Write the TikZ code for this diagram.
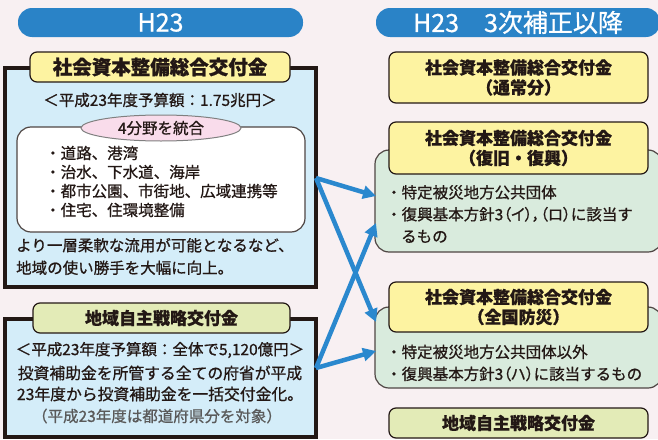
\documentclass[tikz,border=0pt]{standalone}
\usepackage{fontspec}
\setmainfont{Noto Sans CJK JP}[RawFeature={embolden=0.8}]
\newfontfamily\jppalt{Noto Sans CJK JP}[RawFeature={+palt;embolden=0.8}]
\usepackage{xcolor}
\usepackage{tikz}
\usetikzlibrary{shapes,arrows,positioning,fit,arrows.meta}

\definecolor{barblue}{HTML}{2A83C7}
\definecolor{panelblue}{HTML}{D4EDF9}
\definecolor{tagyellow}{HTML}{FDF3A1}
\definecolor{taggreen}{HTML}{E3EBB7}
\definecolor{boxgreen}{HTML}{D9EBDD}
\definecolor{ovalpink}{HTML}{F9DCEB}
\definecolor{inkdark}{HTML}{231815}
\definecolor{notegray}{HTML}{5A5A5A}
\definecolor{paper}{HTML}{F8F0F2}
\definecolor{arrowblue}{HTML}{2A88CE}

\begin{document}
\begin{tikzpicture}[x=1pt, y=-1pt,
            header/.style={rectangle, rounded corners=14pt, fill=barblue, text=white, inner sep=0pt, font=\fontsize{25}{27}\selectfont},
            panel/.style={rectangle, draw=inkdark, line width=4pt, fill=panelblue, inner sep=0pt},
            tag/.style={rectangle, rounded corners=7pt, draw=inkdark, line width=1.2pt, fill=tagyellow, inner sep=0pt, align=center, text=inkdark, font=\bfseries\fontsize{17}{20}\selectfont},
            greenbox/.style={rectangle, rounded corners=14pt, draw=inkdark!80, line width=1.2pt, fill=boxgreen, inner sep=0pt},
            body/.style={inner sep=0pt, align=left, text=inkdark, font=\fontsize{15.5}{19}\selectfont},
            flow/.style={-{Triangle[length=13pt,width=13pt]}, line width=4.5pt, draw=arrowblue}
        ]

        \clip (0,0) rectangle (658,439);
        \fill[paper] (0,0) rectangle (658,439);

        \node[header, minimum width=285pt, minimum height=29pt] (oldhead) at (160.5,22.5) {H23};
        \node[header, minimum width=284pt, minimum height=29pt] (newhead) at (518,22.5) {H23　3次補正以降};

        \node[panel, minimum width=311pt, minimum height=219pt] (shapanel) at (160.5,177) {};
        \node[tag, minimum width=260pt, minimum height=30pt, font=\bfseries\fontsize{19.5}{22}\selectfont] (shatag) at (160,67) {社会資本整備総合交付金};
        \node[body] (shabudget) at (160,100) {＜平成23年度予算額：1.75兆円＞};
        \node[rectangle, rounded corners=14pt, draw=inkdark!80, line width=1.2pt, fill=white, minimum width=288pt, minimum height=105pt] (fieldbox) at (161,179.5) {};
        \node[ellipse, draw=gray, line width=1pt, fill=ovalpink, minimum width=160pt, minimum height=26pt, inner sep=0pt, body] (merge) at (161,128) {4分野を統合};
        \node[body, anchor=west] (fieldlist) at (45,181.5) {・道路、港湾\\・治水、下水道、海岸\\・都市公園、市街地、広域連携等\\・住宅、住環境整備};
        \node[body, anchor=west, font=\fontsize{15.5}{22.5}\selectfont] (shanote) at (16,256.5) {より一層柔軟な流用が可能となるなど、\\地域の使い勝手を大幅に向上。};

        \node[panel, minimum width=311pt, minimum height=118pt] (chipanel) at (160.5,378) {};
        \node[tag, fill=taggreen, minimum width=257pt, minimum height=30pt] (chitag) at (161.5,318) {地域自主戦略交付金};
        \node[body] (chibudget) at (160,350) {＜平成23年度予算額：全体で5,120億円＞};
        \node[body, align=center, font=\fontsize{15.8}{21}\selectfont] (chinote) at (160,383.5) {投資補助金を所管する全ての府省が平成\\23年度から投資補助金を一括交付金化。};
        \node[body, text=notegray] (chiscope) at (157,416) {（平成23年度は都道府県分を対象）};

        \node[tag, minimum width=259pt, minimum height=51pt] (normaltag) at (518.5,77.5) {社会資本整備総合交付金\\（通常分）};

        \node[greenbox, minimum width=287pt, minimum height=102pt] (recovbox) at (518.5,201) {};
        \node[tag, minimum width=259pt, minimum height=52pt] (recovtag) at (518.5,148) {社会資本整備総合交付金\\（復旧・復興）};
        \node[body, anchor=west, font=\fontsize{15.5}{22}\selectfont] (recovlist) at (386,214) {・特定被災地方公共団体\\・復興基本方針3{\jppalt （イ），（ロ）}に該当す\\\hspace*{15pt}るもの};

        \node[greenbox, minimum width=287pt, minimum height=81pt] (disbox) at (518.5,347.5) {};
        \node[tag, minimum width=259pt, minimum height=50pt] (distag) at (518.5,307) {社会資本整備総合交付金\\（全国防災）};
        \node[body, anchor=west, font=\fontsize{15.5}{22}\selectfont] (dislist) at (386,363) {・特定被災地方公共団体以外\\・復興基本方針3{\jppalt （ハ）}に該当するもの};

        \node[tag, fill=taggreen, minimum width=259pt, minimum height=30pt] (newchitag) at (518.5,423) {地域自主戦略交付金};

        \coordinate (shaout) at (316,178);
        \coordinate (chiout) at (316,368);
        \coordinate (recovin) at (376,196);
        \coordinate (recovin2) at (376,223);
        \coordinate (disin) at (376,322);
        \coordinate (disin2) at (376,351);

        \draw[flow] (shaout) -- (recovin);
        \draw[flow] (shaout) -- (disin);
        \draw[flow] (chiout) -- (recovin2);
        \draw[flow] (chiout) -- (disin2);

    \end{tikzpicture}
\end{document}
